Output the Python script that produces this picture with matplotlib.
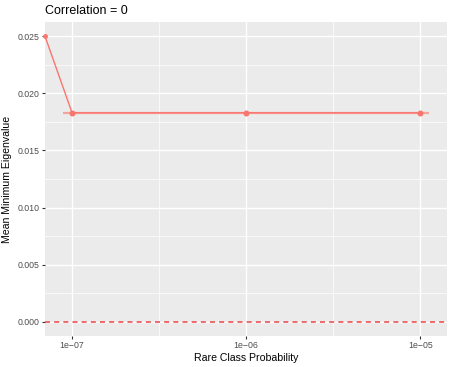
import numpy as np
import matplotlib.pyplot as plt
from matplotlib.ticker import FixedLocator, FuncFormatter

plt.rcParams["font.family"] = ["Liberation Sans", "DejaVu Sans"]

# data
rare_prob = [1e-7, 1e-6, 1e-5]
mean_min_eig = [0.0183, 0.0183, 0.0183]
zero_prob_value = 0.025  # rare prob = 0 -> drawn at the left border on log scale
bar_lo = [0.89e-7]
bar_hi = [1.12e-5]

line_col = "#F8766D"
bg = "#EBEBEB"

fig = plt.figure(figsize=(4.51, 3.67), dpi=100)
ax = fig.add_axes([45 / 451, 1 - 336 / 367, 402 / 451, 314 / 367])
ax.set_facecolor(bg)
ax.set_xscale("log")

lo_log = np.log10(bar_lo[0])
hi_log = np.log10(bar_hi[0])
span = hi_log - lo_log
xmin = 10 ** (lo_log - 0.05 * span)
xmax = 10 ** (hi_log + 0.05 * span)
ax.set_xlim(xmin, xmax)
ax.set_ylim(-0.00125, 0.02625)

# grid
ax.xaxis.set_major_locator(FixedLocator(rare_prob))
ax.xaxis.set_minor_locator(FixedLocator([10 ** -6.5, 10 ** -5.5]))
ax.yaxis.set_major_locator(FixedLocator(np.arange(0, 0.0251, 0.005)))
ax.yaxis.set_minor_locator(FixedLocator(np.arange(0.0025, 0.0251, 0.005)))
ax.grid(which="major", color="white", lw=1.0)
ax.grid(which="minor", color="white", lw=0.5)
ax.set_axisbelow(True)
for s in ax.spines.values():
    s.set_visible(False)

# zero reference line
ax.axhline(0, color="#F04040", lw=1.2, ls=(0, (3, 2.5)), alpha=0.9, zorder=2)

# horizontal bar behind points
ax.plot([bar_lo[0], bar_hi[0]], [mean_min_eig[0], mean_min_eig[-1]],
        color=line_col, lw=1.6, alpha=0.6, zorder=3, solid_capstyle="butt")

# line from the zero-probability point (left border) to the rest
ax.plot([xmin] + rare_prob, [zero_prob_value] + mean_min_eig,
        color=line_col, lw=1.0, zorder=4, clip_on=False)
ax.plot(rare_prob, mean_min_eig, "o", color=line_col, ms=3.3, zorder=5)
ax.plot([xmin], [zero_prob_value], "o", color=line_col, ms=2.5, zorder=5, clip_on=False)

ax.xaxis.set_major_formatter(FuncFormatter(lambda v, p: "1e\u2212%02d" % round(-np.log10(v))))
ax.xaxis.set_minor_formatter(FuncFormatter(lambda v, p: ""))
ax.yaxis.set_major_formatter(FuncFormatter(lambda v, p: "%.3f" % v))

ax.tick_params(which="major", length=2.2, width=0.8, color="#333333",
               labelsize=6.3, labelcolor="#4D4D4D", pad=1.5)
ax.tick_params(which="minor", length=0)

ax.set_xlabel("Rare Class Probability", fontsize=7.6, labelpad=2)
ax.set_ylabel("Mean Minimum Eigenvalue", fontsize=7.6, labelpad=4)
ax.set_title("Correlation = 0", loc="left", fontsize=9, pad=5.5)

fig.savefig("out.png", dpi=100)
